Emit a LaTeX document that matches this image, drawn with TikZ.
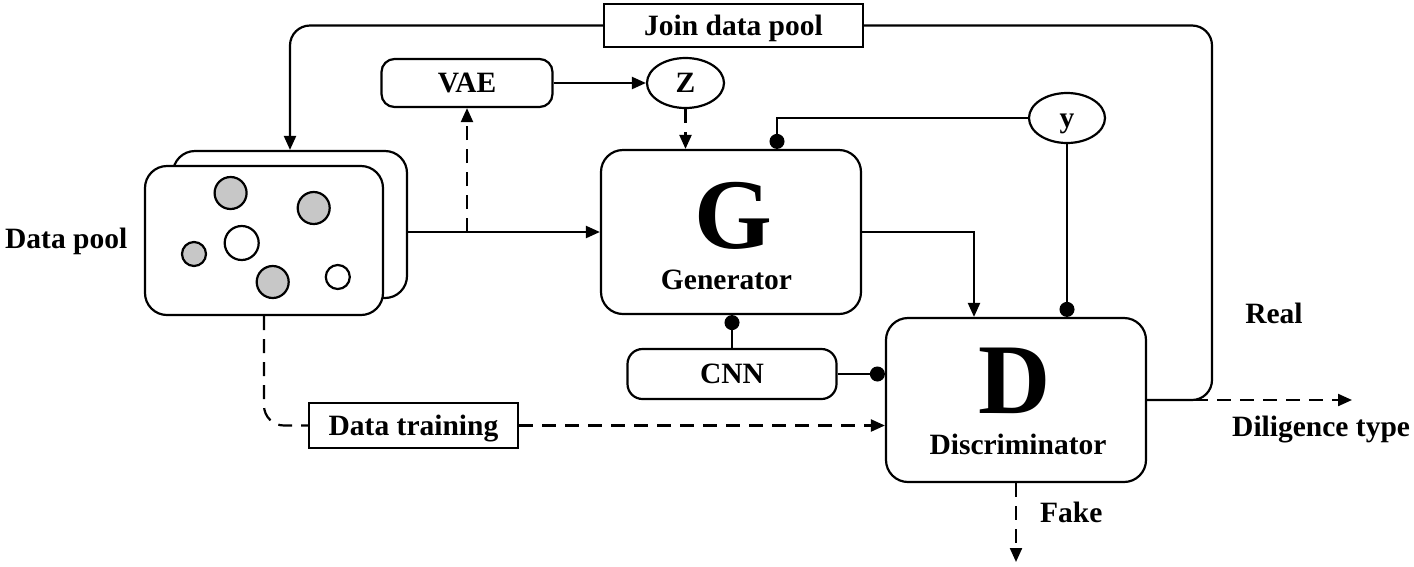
\documentclass[tikz,border=0pt]{standalone}
\usepackage{fontspec}
\setmainfont{Liberation Serif}
\usetikzlibrary{arrows.meta,shapes.geometric}
\begin{document}
\begin{tikzpicture}[x=1pt,y=-1pt,
  every node/.style={font=\fontsize{29.5}{31}\selectfont\bfseries},
  ln/.style={line width=2.2pt},
  box/.style={ln,draw,rectangle,inner sep=0pt,text height=19.5pt,text depth=0pt},
  rbox/.style={box,rounded corners=#1},
  oval/.style={ln,draw,ellipse,inner sep=0pt,text height=19.5pt,text depth=0pt},
  arr/.style={ln,-{Triangle[length=14pt,width=12pt]}},
  dsh/.style={ln,dash pattern=on 14pt off 9pt},
  dasharr/.style={dsh,-{Triangle[length=14pt,width=12pt]}},
  dotend/.style={ln,-{Circle[length=15pt]}},
  big/.style={font=\fontsize{100}{100}\selectfont\bfseries,inner sep=0pt,anchor=base},
  lbl/.style={inner sep=0pt,anchor=base},
  gdot/.style={ln,draw,fill=black!22},
  wdot/.style={ln,draw,fill=white}
]
\useasboundingbox (0,0) rectangle (1414,566);

% data pool stack
\node[rbox=22pt,minimum width=234pt,minimum height=147pt,fill=white] (back) at (290,224.5) {};
\node[rbox=22pt,minimum width=238pt,minimum height=149pt,fill=white] (front) at (264,240.5) {};
\path[gdot] (230.6,193) circle[radius=16];
\path[gdot] (313.7,208) circle[radius=16];
\path[wdot] (241.7,243) circle[radius=17];
\path[gdot] (194,254) circle[radius=12];
\path[gdot] (272.7,282) circle[radius=16];
\path[wdot] (337.8,277) circle[radius=12];
\node[lbl,anchor=base west] (dplbl) at (5,248) {Data pool};

% boxes
\node[box,minimum width=259pt,minimum height=43pt] (join) at (733.5,25.5) {Join data pool};
\node[rbox=13pt,minimum width=171pt,minimum height=48pt] (vae) at (467,83) {VAE};
\node[oval,minimum width=77pt,minimum height=50pt] (z) at (685.5,83) {Z};
\node[oval,minimum width=76pt,minimum height=50pt] (yy) at (1067,118) {y};
\node[rbox=22pt,minimum width=260pt,minimum height=164pt] (G) at (731,232) {};
\node[big] (Gl) at (733,248) {G};
\node[lbl] (Gt) at (726.5,289) {Generator};
\node[rbox=22pt,minimum width=260pt,minimum height=164pt] (D) at (1016,400) {};
\node[big] (Dl) at (1014.5,413) {D};
\node[lbl] (Dt) at (1018,454) {Discriminator};
\node[rbox=15pt,minimum width=209pt,minimum height=50pt] (cnn) at (732,374) {CNN};
\node[box,minimum width=209pt,minimum height=45pt] (train) at (413.5,425.5) {Data training};

\node[lbl] (real) at (1274,323) {Real};
\node[lbl,anchor=base west] (dil) at (1232,436) {Diligence type};
\node[lbl,anchor=base west] (fake) at (1040,522) {Fake};

% coordinates
\coordinate (rc) at (1212,400);
\coordinate (dstart) at (1194,400);
\coordinate (dend) at (1352,400);
\coordinate (jn) at (467,232);
\coordinate (fk) at (1016,562);

% connectors
\draw[arr,rounded corners=20pt] (join.west) -| (back.north);
\draw[ln,rounded corners=20pt] (join.east) -| (rc) -- (D.east);
\draw[dasharr] (dstart) -- (dend);
\draw[arr] (back.east |- G.west) -- (G.west);
\draw[dasharr] (jn) -- (jn |- vae.south);
\draw[arr] (vae.east) -- (z.west);
\draw[dasharr] (z.south) -- (z.south |- G.north);
\draw[dotend] (yy.west) -| ([xshift=46pt]G.north);
\draw[dotend] (yy.south) -- (yy.south |- D.north);
\draw[arr] (G.east) -| ([xshift=-42pt]D.north);
\draw[dotend] (cnn.north) -- (cnn.north |- G.south);
\draw[dotend] (cnn.east) -- (cnn.east -| D.west);
\draw[dsh,rounded corners=20pt] (front.south) |- (train.west);
\draw[dasharr] (train.east) -- (train.east -| D.west);
\draw[dasharr] (D.south) -- (fk);
\end{tikzpicture}
\end{document}
